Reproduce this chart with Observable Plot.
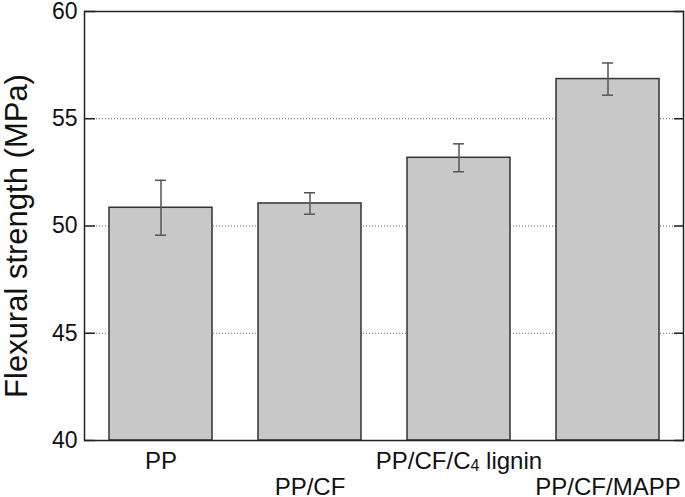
<!DOCTYPE html>
<html>
<head>
<meta charset="utf-8">
<script src="https://cdn.jsdelivr.net/npm/d3@7"></script>
<script src="https://cdn.jsdelivr.net/npm/@observablehq/plot@0.6"></script>
<style>
  html, body { margin: 0; padding: 0; background: #fff; }
</style>
</head>
<body>
<div id="chart"></div>
<script>
const categories = ["PP", "PP/CF", "PP/CF/C₄ lignin", "PP/CF/MAPP"];
const means = [50.85, 51.05, 53.18, 56.85];
const errors = [1.28, 0.5, 0.65, 0.75];
const yTicks = [40, 45, 50, 55, 60];
const gridValues = [45, 50, 55];
const yTitle = "Flexural strength (MPa)";

const data = categories.map((c, i) => ({category: c, mean: means[i], err: errors[i], row: i % 2}));

const chart = Plot.plot({
  width: 685,
  height: 497,
  marginLeft: 84,
  marginRight: 2,
  marginTop: 11,
  marginBottom: 57,
  style: {fontFamily: "'Liberation Sans', Arial, sans-serif", background: "white", color: "#111"},
  x: {domain: categories, paddingInner: 0.31, paddingOuter: 0.155, axis: null},
  y: {domain: [40, 60], axis: null},
  marks: [
    Plot.gridY(gridValues, {stroke: "#666", strokeOpacity: 1, strokeDasharray: "1,2"}),
    Plot.barY(data, {x: "category", y1: () => 40, y2: "mean", fill: "#c8c8c8", stroke: "#333", strokeWidth: 1.5}),
    Plot.ruleX(data, {x: "category", y1: d => d.mean - d.err, y2: d => d.mean + d.err, stroke: "#555", strokeWidth: 1.5}),
    Plot.tickY(data, {x: "category", y: d => d.mean + d.err, insetLeft: 46, insetRight: 46, stroke: "#555", strokeWidth: 1.5}),
    Plot.tickY(data, {x: "category", y: d => d.mean - d.err, insetLeft: 46, insetRight: 46, stroke: "#555", strokeWidth: 1.5}),
    Plot.axisY(yTicks, {anchor: "left", label: null, tickSize: 11, dx: 11, tickFormat: () => "", stroke: "#222", strokeWidth: 1.5}),
    Plot.axisY(yTicks, {anchor: "right", label: null, tickSize: 10, dx: -10, tickFormat: () => "", stroke: "#222", strokeWidth: 1.5}),
    Plot.axisY(yTicks, {anchor: "left", label: null, tickSize: 0, tickPadding: 7, fontSize: 23, fill: "#111"}),
    Plot.frame({stroke: "#222", strokeWidth: 1.5}),
    Plot.text(data.filter(d => d.row === 0), {x: "category", text: "category", frameAnchor: "bottom", lineAnchor: "bottom", dy: 28, fontSize: 24, fill: "#111"}),
    Plot.text(data.filter(d => d.row === 1), {x: "category", text: "category", frameAnchor: "bottom", lineAnchor: "bottom", dy: 54, fontSize: 24, fill: "#111"}),
    Plot.text([yTitle], {text: d => d, frameAnchor: "left", textAnchor: "middle", lineAnchor: "middle", rotate: -90, dx: -67, dy: 10, fontSize: 31, fill: "#111"})
  ]
});

// render the subscript 4 as a smaller lowered glyph
chart.querySelectorAll("text").forEach(t => {
  const s = t.textContent;
  if (s.includes("₄")) {
    const [a, b] = s.split("₄");
    while (t.firstChild) t.removeChild(t.firstChild);
    const ns = "http://www.w3.org/2000/svg";
    const t1 = document.createElementNS(ns, "tspan"); t1.textContent = a;
    const t2 = document.createElementNS(ns, "tspan"); t2.textContent = "4";
    t2.setAttribute("font-size", "16"); t2.setAttribute("dy", "2");
    const t3 = document.createElementNS(ns, "tspan"); t3.textContent = b;
    t3.setAttribute("dy", "-2");
    t.appendChild(t1); t.appendChild(t2); t.appendChild(t3);
  }
});

document.getElementById("chart").appendChild(chart);
</script>
</body>
</html>
